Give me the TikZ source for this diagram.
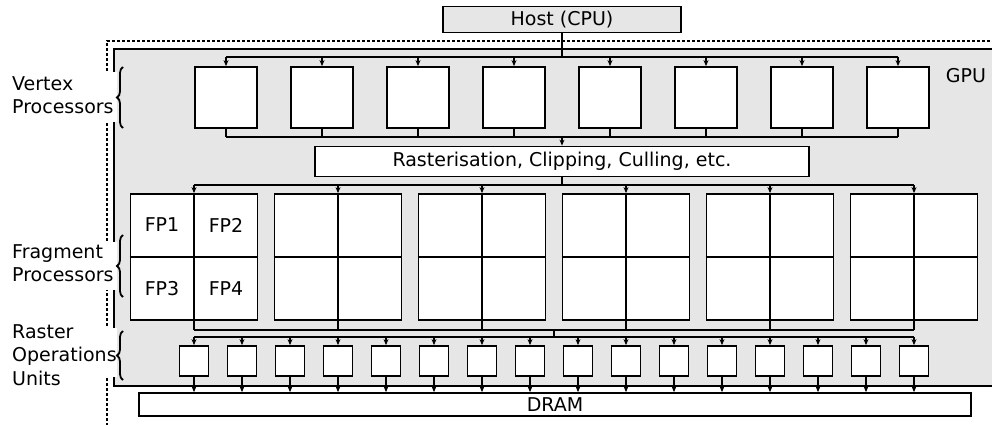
\documentclass[tikz,border=0pt]{standalone}
\usepackage{fontspec}
\setmainfont{DejaVu Sans}
\usetikzlibrary{arrows.meta,decorations.pathreplacing,calc}
\definecolor{gpugray}{HTML}{E6E6E6}
\begin{document}
\begin{tikzpicture}[x=1pt,y=-1pt,
  font=\fontsize{19}{23.5}\selectfont,
  blk/.style={draw, line width=1.8pt, fill=white, inner sep=0pt},
  conn/.style={line width=1.3pt},
  arr/.style={conn, -{Stealth[length=6pt,width=5pt]}},
  brc/.style={decorate, decoration={brace, amplitude=6pt}, line width=1.8pt},
  lbl/.style={align=left, anchor=west, inner sep=0pt},
  dsh/.style={line width=1.2pt, dash pattern=on 3pt off 2pt}]
\useasboundingbox (0,0) rectangle (992,425);
\begin{scope}
  \clip (0,0) rectangle (992,425);
  \draw[dsh] (107,426) -- (107,41) -- (1000,41);
  \draw[dsh, black!40] (107,425.6) -- (1000,425.6);
  \draw[line width=1.8pt, fill=gpugray] (114,49) rectangle (1000,386);
\end{scope}
% host
\node[blk, fill=gpugray, minimum width=238pt, minimum height=26pt] (host) at (562,19.5) {Host (CPU)};
% vertex processors
\foreach \i in {0,...,7}
  \node[blk, minimum width=62pt, minimum height=61pt] (v\i) at ({226+96*\i},97.5) {};
% rasteriser
\node[blk, minimum width=494pt, minimum height=30pt] (rast) at (562,161.5) {Rasterisation, Clipping, Culling, etc.};
% fragment blocks
\foreach \i in {0,...,5}{
  \node[blk, minimum width=127pt, minimum height=126pt] (f\i) at ({194+144*\i},257) {};
  \draw[line width=1.6pt] (f\i.north) -- (f\i.south);
  \draw[line width=1.6pt] (f\i.west) -- (f\i.east);
}
\node (fp1) at (162,225) {FP1};
\node (fp2) at (226,225) {FP2};
\node (fp3) at (162,289) {FP3};
\node (fp4) at (226,289) {FP4};
% ROP units
\foreach \i in {0,...,15}
  \node[blk, minimum width=29pt, minimum height=30pt] (r\i) at ({194+48*\i},361) {};
% DRAM
\node[blk, minimum width=832pt, minimum height=23pt] (dram) at (555,404.5) {DRAM};
% GPU label
\node[inner sep=0pt] (gpu) at (966,75.5) {GPU};
% buses
\coordinate (hb) at (562,57);
\draw[conn] (host.south) -- (hb);
\draw[conn] (v0.north |- hb) -- (v7.north |- hb);
\foreach \i in {0,...,7} \draw[arr] (v\i.north |- hb) -- (v\i.north);
\coordinate (vb) at (562,137);
\foreach \i in {0,...,7} \draw[conn] (v\i.south) -- (v\i.south |- vb);
\draw[conn] (v0.south |- vb) -- (v7.south |- vb);
\draw[arr] (vb) -- (rast.north);
\coordinate (fb) at (562,185);
\draw[conn] (rast.south) -- (fb);
\draw[conn] (f0.north |- fb) -- (f5.north |- fb);
\foreach \i in {0,...,5} \draw[arr] (f\i.north |- fb) -- (f\i.north);
\coordinate (fo) at (554,330);
\foreach \i in {0,...,5} \draw[conn] (f\i.south) -- (f\i.south |- fo);
\draw[conn] (f0.south |- fo) -- (f5.south |- fo);
\coordinate (rb) at (554,337);
\draw[conn] (fo) -- (rb);
\draw[conn] (r0.north |- rb) -- (r15.north |- rb);
\foreach \i in {0,...,15} \draw[arr] (r\i.north |- rb) -- (r\i.north);
\foreach \i in {0,...,15} \draw[arr] (r\i.south) -- (r\i.south |- dram.north);
% side labels
\fill[white] (100,72) rectangle (117,122);
\fill[white] (100,242) rectangle (117,290);
\fill[white] (100,328) rectangle (117,377);
\node[lbl] (lv) at (12,95) {Vertex\\Processors};
\node[lbl] (lf) at (12,263) {Fragment\\Processors};
\node[lbl] (lr) at (12,355) {Raster\\Operations\\Units};
\draw[brc] (123,128) -- (123,67);
\draw[brc] (123,297) -- (123,235);
\draw[brc] (123,380) -- (123,331);
\end{tikzpicture}
\end{document}
